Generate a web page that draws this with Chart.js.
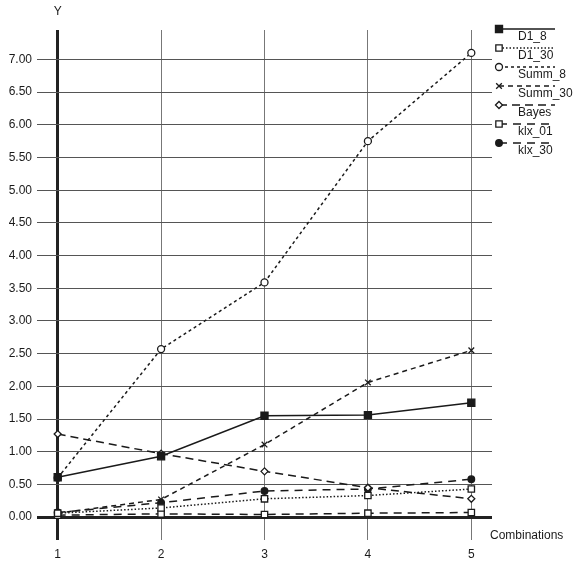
<!DOCTYPE html>
<html>
<head>
<meta charset="utf-8">
<script src="https://cdn.jsdelivr.net/npm/chart.js@4"></script>
<style>
  html, body { margin: 0; padding: 0; background: #fff; }
  #wrap { width: 582px; height: 562px; }
</style>
</head>
<body>
<div id="wrap"><canvas id="chart"></canvas></div>
<script>
'use strict';
// values
const categories = [1, 2, 3, 4, 5];
const yTicks = [0, 0.5, 1, 1.5, 2, 2.5, 3, 3.5, 4, 4.5, 5, 5.5, 6, 6.5, 7];

const d1_8 = [0.61, 0.93, 1.55, 1.56, 1.75];
const d1_30 = [0.06, 0.14, 0.28, 0.33, 0.43];
const summ_8 = [0.60, 2.57, 3.59, 5.75, 7.10];
const summ_30 = [0.06, 0.27, 1.11, 2.06, 2.55];
const bayes = [1.27, 0.97, 0.70, 0.45, 0.28];
const klx_01 = [0.03, 0.05, 0.04, 0.06, 0.07];
const klx_30 = [0.07, 0.22, 0.40, 0.43, 0.58];

const FONT = 'Liberation Sans, Arial, sans-serif';
const INK = '#1a1a1a';

function series(label, values, dash, pointStyle, radius, filled) {
  return {
    label: label,
    data: values.map((v, i) => ({ x: categories[i], y: v })),
    borderColor: INK,
    borderWidth: 1.5,
    borderDash: dash,
    pointStyle: pointStyle,
    pointRadius: radius,
    pointBorderWidth: 1.3,
    pointBorderColor: INK,
    pointBackgroundColor: filled ? INK : '#fff',
    tension: 0,
    fill: false
  };
}

const datasets = [
  series('D1_8', d1_8, [], 'rect', 5, true),
  series('D1_30', d1_30, [1.5, 2], 'rect', 4.5, false),
  series('Summ_8', summ_8, [3, 3], 'circle', 3.5, false),
  series('Summ_30', summ_30, [5, 4], 'crossRot', 4, false),
  series('Bayes', bayes, [8, 5], 'rectRot', 3.5, false),
  series('klx_01', klx_01, [8, 6], 'rect', 4.5, false),
  series('klx_30', klx_30, [8, 6], 'circle', 3.3, true)
];

// legend, axis names
const extras = {
  id: 'extras',
  afterDraw(chart) {
    const ctx = chart.ctx;
    ctx.save();
    ctx.font = '12px ' + FONT;
    ctx.fillStyle = INK;
    ctx.textBaseline = 'middle';
    ctx.textAlign = 'center';
    ctx.fillText('Y', chart.scales.x.getPixelForValue(1), 12);
    ctx.textAlign = 'left';
    ctx.fillText('Combinations', 490, 536);

    chart.data.datasets.forEach((ds, i) => {
      const y = 29 + i * 19;
      ctx.strokeStyle = INK;
      ctx.lineWidth = 1.5;
      ctx.setLineDash(ds.borderDash);
      ctx.beginPath();
      ctx.moveTo(499, y);
      ctx.lineTo(555, y);
      ctx.stroke();
      ctx.setLineDash([]);
      ctx.fillStyle = ds.pointBackgroundColor;
      ctx.strokeStyle = INK;
      ctx.lineWidth = 1.3;
      Chart.helpers.drawPoint(ctx, { pointStyle: ds.pointStyle, radius: ds.pointRadius, rotation: 0, borderWidth: 1.3 }, 499, y);
      ctx.fillStyle = INK;
      ctx.fillText(ds.label, 518, y + 8);
    });
    ctx.restore();
  }
};

const config = {
  type: 'line',
  data: { datasets: datasets },
  options: {
    responsive: true,
    maintainAspectRatio: false,
    animation: false,
    layout: { padding: { top: 30, right: 90, left: 0, bottom: 0 } },
    plugins: { legend: { display: false }, tooltip: { enabled: false } },
    scales: {
      x: {
        type: 'linear',
        min: 0.8,
        max: 5.2,
        afterBuildTicks: s => { s.ticks = categories.map(v => ({ value: v })); },
        afterFit: s => { s.height = 22; },
        border: { display: false },
        grid: {
          drawTicks: false,
          color: c => c.tick && c.tick.value === 1 ? '#222' : '#777',
          lineWidth: c => c.tick && c.tick.value === 1 ? 3 : 1
        },
        ticks: { color: INK, font: { family: FONT, size: 12 }, padding: 7 }
      },
      y: {
        min: -0.35,
        max: 7.45,
        afterBuildTicks: s => { s.ticks = yTicks.map(v => ({ value: v })); },
        afterFit: s => { s.width = 37; },
        border: { display: false },
        grid: {
          drawTicks: false,
          color: c => c.tick && c.tick.value === 0 ? '#222' : '#555',
          lineWidth: c => c.tick && c.tick.value === 0 ? 3 : 1
        },
        ticks: {
          color: INK,
          font: { family: FONT, size: 12 },
          padding: 5,
          callback: v => v.toFixed(2)
        }
      }
    }
  },
  plugins: [extras]
};

const canvasElem = document.getElementById('chart');
const myChart = new Chart(canvasElem, config);
</script>
</body>
</html>
